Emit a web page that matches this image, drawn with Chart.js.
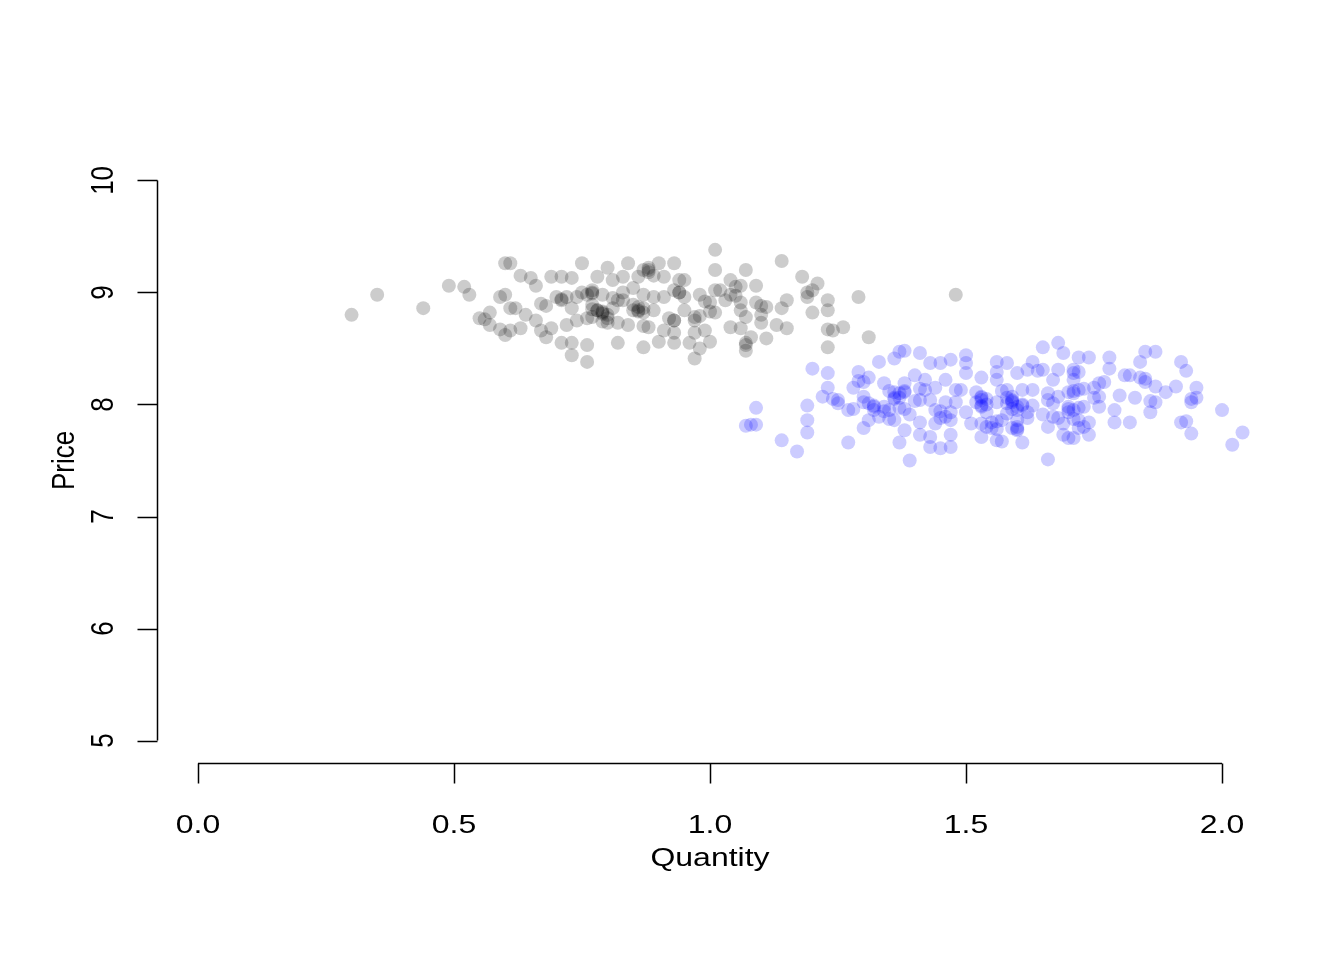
<!DOCTYPE html>
<html>
<head>
<meta charset="utf-8">
<script src="https://cdn.jsdelivr.net/npm/chart.js@4"></script>
<style>
  body { margin: 0; background: #fff; }
  #wrap { width: 1344px; height: 960px; }
</style>
</head>
<body>
<div id="wrap"><canvas id="chart" width="1344" height="960"></canvas></div>
<script>
// group 1 (grey/black points)
const blackQuantity = [
  0.30,0.35,0.44,0.49,0.52,0.53,0.59,0.60,0.57,0.55,0.56,0.57,0.59,0.60,0.61,
  0.61,0.75,0.80,0.84,0.88,0.90,0.93,0.88,0.87,0.63,0.65,0.66,0.69,0.71,0.73,
  0.78,0.81,0.83,0.86,0.91,0.94,0.60,0.70,0.71,0.72,0.75,0.76,0.77,0.77,0.79,
  0.81,0.83,0.85,0.87,0.89,0.91,0.94,0.93,0.62,0.67,0.68,0.73,0.78,0.77,0.79,
  0.79,0.80,0.81,0.83,0.85,0.86,0.87,0.86,0.89,0.93,0.92,0.95,0.64,0.66,0.61,
  0.63,0.67,0.69,0.72,0.74,0.76,0.77,0.80,0.79,0.82,0.84,0.88,0.87,0.91,0.93,
  0.68,0.71,0.73,0.76,0.82,0.87,0.90,0.93,0.73,0.76,
  1.01,1.14,1.01,1.07,1.18,0.95,1.04,1.06,1.05,1.09,1.21,1.20,1.19,1.01,1.04,
  1.05,0.98,1.29,1.19,1.15,1.09,1.11,1.10,1.06,1.00,0.99,1.01,1.00,0.97,0.98,
  1.14,1.20,1.23,1.23,1.06,1.07,1.10,1.13,1.15,1.10,1.04,1.06,1.24,1.23,1.26,
  1.31,0.99,0.97,1.00,1.08,1.11,1.07,1.07,0.96,0.98,0.97,1.23,1.07,1.48,
  0.78,0.79,0.77,0.80,0.86,0.85,0.87,0.94,0.95,0.88,0.89,0.77,0.74,0.93,0.97,
  0.82,0.71,1.02,1.03
];
const blackPrice = [
  8.80,8.98,8.86,9.06,9.05,8.98,8.96,9.26,8.82,8.77,8.76,8.71,8.67,8.62,8.86,
  9.26,9.26,9.22,9.26,9.22,9.26,9.26,9.18,9.20,9.15,9.13,9.06,9.14,9.14,9.13,
  9.14,9.11,9.14,9.14,9.14,9.11,8.98,8.96,8.94,8.96,9.00,8.98,9.02,8.99,8.98,
  8.95,9.00,9.04,8.98,8.96,8.96,9.00,9.02,8.86,8.90,8.88,8.86,8.84,8.85,8.83,
  8.81,8.80,8.86,8.93,8.84,8.83,8.86,8.87,8.84,8.75,8.77,8.84,8.80,8.75,8.66,
  8.68,8.66,8.68,8.71,8.75,8.77,8.78,8.73,8.74,8.73,8.71,8.69,8.70,8.66,8.64,
  8.60,8.55,8.55,8.53,8.55,8.51,8.56,8.55,8.44,8.38,
  9.38,9.28,9.20,9.20,9.14,9.11,9.11,9.06,9.05,9.06,9.08,9.02,9.00,9.02,8.98,
  8.97,8.98,8.96,8.96,8.93,8.91,8.87,8.88,8.91,8.91,8.92,8.82,8.83,8.78,8.79,
  8.86,8.82,8.84,8.93,8.84,8.78,8.80,8.71,8.68,8.73,8.69,8.68,8.66,8.67,8.69,
  8.60,8.66,8.64,8.56,8.60,8.59,8.55,8.48,8.55,8.50,8.41,8.51,8.53,8.98,
  8.84,8.82,8.89,8.77,8.84,8.89,8.82,9.00,8.96,9.20,9.15,9.00,8.96,8.75,8.75,
  8.93,8.93,9.02,8.93
];

// group 2 (blue points)
const blueQuantity = [
  1.20,1.23,1.33,1.36,1.37,1.29,1.31,1.30,1.29,1.28,1.23,1.22,1.25,1.24,1.25,
  1.27,1.28,1.30,1.31,1.30,1.32,1.32,1.34,1.36,1.35,1.37,1.36,1.38,1.37,1.37,
  1.38,1.35,1.34,1.34,1.36,1.35,1.33,1.31,1.30,1.38,1.38,1.37,1.39,1.19,1.19,
  1.19,1.14,1.17,1.09,1.07,1.08,1.09,1.27,
  1.38,1.41,1.43,1.45,1.47,1.50,1.50,1.56,1.58,1.56,1.60,1.62,1.63,1.65,1.68,
  1.69,1.65,1.64,1.67,1.68,1.71,1.40,1.42,1.46,1.50,1.53,1.56,1.38,1.42,1.41,
  1.44,1.48,1.49,1.53,1.54,1.53,1.52,1.58,1.57,1.59,1.58,1.61,1.63,1.66,1.68,
  1.71,1.41,1.40,1.43,1.46,1.48,1.52,1.53,1.54,1.53,1.56,1.59,1.58,1.59,1.61,
  1.60,1.61,1.63,1.67,1.70,1.39,1.44,1.45,1.46,1.45,1.47,1.50,1.54,1.58,1.60,
  1.59,1.62,1.62,1.65,1.68,1.67,1.70,1.41,1.44,1.47,1.51,1.53,1.55,1.56,1.55,
  1.56,1.54,1.60,1.60,1.59,1.60,1.66,1.69,1.70,1.41,1.43,1.47,1.53,1.56,1.57,
  1.61,1.69,1.43,1.45,1.47,1.66,
  1.72,1.74,1.78,1.85,1.87,1.84,1.92,1.93,1.72,1.71,1.71,1.78,1.77,1.76,1.81,
  1.82,1.84,1.85,1.85,1.87,1.89,1.91,1.95,1.70,1.71,1.72,1.73,1.75,1.76,1.75,
  1.80,1.83,1.87,1.86,1.94,1.95,1.94,1.71,1.70,1.73,1.72,1.76,1.79,1.86,1.92,
  1.93,2.00,1.72,1.71,1.74,1.79,1.82,1.73,1.72,1.71,1.74,1.94,2.04,2.02,
  1.53,1.59,1.60,1.57,1.36,1.32,1.66
];
const bluePrice = [
  8.32,8.28,8.38,8.41,8.47,8.29,8.24,8.20,8.21,8.15,8.15,8.07,8.04,8.05,8.01,
  7.95,7.96,8.07,8.01,8.02,7.99,7.98,8.19,8.11,8.12,8.06,8.05,8.11,8.10,7.97,
  7.96,7.95,7.94,7.98,7.86,7.87,7.89,7.86,7.79,8.19,7.77,7.66,7.50,7.99,7.86,
  7.75,7.68,7.58,7.97,7.81,7.82,7.82,7.66,
  8.48,8.46,8.37,8.37,8.40,8.44,8.37,8.38,8.37,8.29,8.28,8.31,8.38,8.51,8.55,
  8.46,8.31,8.30,8.22,8.31,8.31,8.26,8.22,8.22,8.28,8.24,8.22,8.12,8.13,8.14,
  8.15,8.13,8.13,8.06,8.05,8.07,8.11,8.13,8.12,8.07,8.06,8.13,8.13,8.10,8.07,
  8.10,8.04,8.03,8.04,8.02,8.02,8.02,7.99,8.00,7.98,8.02,8.02,8.01,8.03,7.99,
  7.98,8.00,7.99,8.01,7.98,7.91,7.95,7.94,7.89,7.88,7.93,7.93,7.93,7.92,7.95,
  7.96,7.93,7.88,7.91,7.88,7.89,7.93,7.84,7.83,7.86,7.83,7.83,7.84,7.85,7.79,
  7.78,7.80,7.80,7.78,7.79,7.86,7.80,7.83,7.70,7.73,7.71,7.73,7.71,7.68,7.67,
  7.66,7.73,7.62,7.61,7.62,7.51,
  8.42,8.42,8.42,8.47,8.47,8.38,8.38,8.30,8.29,8.28,8.22,8.32,8.20,8.19,8.26,
  8.26,8.24,8.23,8.20,8.16,8.11,8.16,8.15,8.11,8.12,8.13,8.14,8.15,8.07,8.06,
  8.08,8.06,8.02,8.03,8.02,8.06,8.05,7.95,7.96,7.98,7.97,7.98,7.95,7.93,7.84,
  7.85,7.95,7.86,7.87,7.84,7.84,7.84,7.80,7.79,7.70,7.73,7.74,7.75,7.64,
  8.04,8.04,7.77,7.86,8.06,7.95,8.04
];

const xTicks = [0, 0.5, 1, 1.5, 2];
const xTickLabels = ['0.0', '0.5', '1.0', '1.5', '2.0'];
const yTicks = [5, 6, 7, 8, 9, 10];
const yTickLabels = ['5', '6', '7', '8', '9', '10'];

function toPoints(xs, ys) {
  return xs.map((x, i) => ({x: x, y: ys[i]}));
}

const FONT = '26px "Liberation Sans", Arial, sans-serif';
const STRETCH = 1.23; // text in the original is a bit wider than tall

function label(c, text, x, y, rotated) {
  c.save();
  c.translate(x, y);
  c.scale(STRETCH, 1);
  if (rotated) c.rotate(-Math.PI / 2);
  c.fillText(text, 0, 0);
  c.restore();
}

// R style axes: line only over the tick range, outward ticks, rotated y labels
const baseAxes = {
  id: 'baseAxes',
  afterDraw(chart) {
    const c = chart.ctx;
    const xs = chart.scales.x, ys = chart.scales.y;
    const area = chart.chartArea;
    c.save();
    c.strokeStyle = '#000';
    c.fillStyle = '#000';
    c.lineWidth = 1.5;
    c.font = FONT;
    c.textAlign = 'center';
    c.textBaseline = 'alphabetic';

    // x axis
    const axY = area.bottom + 0.5;
    c.beginPath();
    c.moveTo(xs.getPixelForValue(xTicks[0]), axY);
    c.lineTo(xs.getPixelForValue(xTicks[xTicks.length - 1]), axY);
    xTicks.forEach(t => {
      const px = Math.round(xs.getPixelForValue(t)) + 0.5;
      c.moveTo(px, axY);
      c.lineTo(px, axY + 20);
    });
    c.stroke();
    xTicks.forEach((t, i) => {
      label(c, xTickLabels[i], xs.getPixelForValue(t), axY + 69, false);
    });
    label(c, 'Quantity', (area.left + area.right) / 2, axY + 102, false);

    // y axis
    const axX = area.left + 0.5;
    c.beginPath();
    c.moveTo(axX, ys.getPixelForValue(yTicks[0]));
    c.lineTo(axX, ys.getPixelForValue(yTicks[yTicks.length - 1]));
    yTicks.forEach(t => {
      const py = Math.round(ys.getPixelForValue(t)) + 0.5;
      c.moveTo(axX, py);
      c.lineTo(axX - 20, py);
    });
    c.stroke();
    yTicks.forEach((t, i) => {
      label(c, yTickLabels[i], axX - 45, ys.getPixelForValue(t), true);
    });
    label(c, 'Price', axX - 84, (area.top + area.bottom) / 2, true);
    c.restore();
  }
};

new Chart(document.getElementById('chart'), {
  type: 'scatter',
  data: {
    datasets: [
      {
        label: 'group 1',
        data: toPoints(blackQuantity, blackPrice),
        backgroundColor: 'rgba(0,0,0,0.2)',
        borderWidth: 0,
        pointRadius: 7
      },
      {
        label: 'group 2',
        data: toPoints(blueQuantity, bluePrice),
        backgroundColor: 'rgba(0,0,255,0.2)',
        borderWidth: 0,
        pointRadius: 7
      }
    ]
  },
  options: {
    responsive: false,
    animation: false,
    layout: {padding: {left: 157, right: 81, top: 158, bottom: 197}},
    plugins: {legend: {display: false}, tooltip: {enabled: false}},
    scales: {
      x: {type: 'linear', min: -0.08, max: 2.08, display: false},
      y: {type: 'linear', min: 4.8, max: 10.2, display: false}
    }
  },
  plugins: [baseAxes]
});
</script>
</body>
</html>
